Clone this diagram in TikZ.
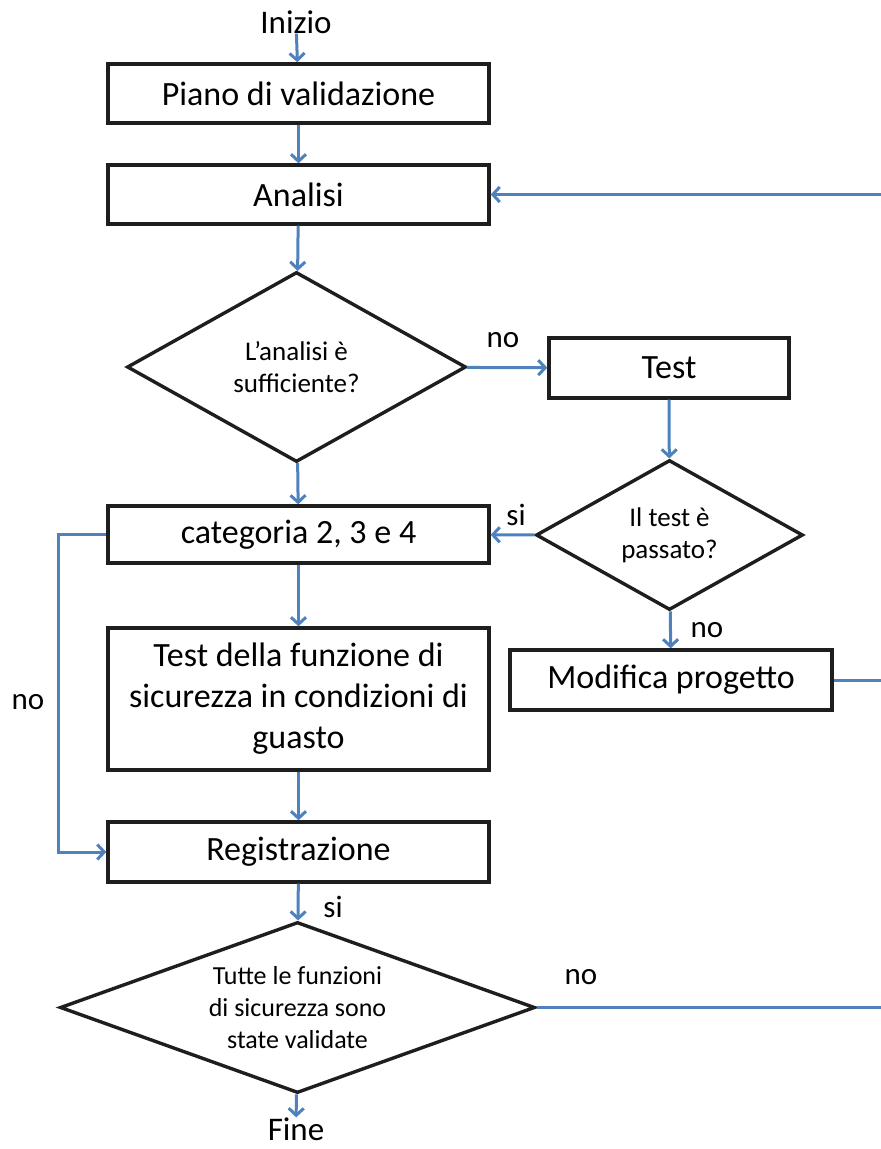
\documentclass[tikz,border=0pt]{standalone}
\usepackage{fontspec}
\setmainfont{Carlito}
\usetikzlibrary{arrows.meta,shapes.geometric}
\definecolor{flowblue}{RGB}{79,129,189}
\definecolor{edge}{RGB}{30,30,30}
\begin{document}
\begin{tikzpicture}[x=1pt,y=-1pt,
  box/.style={draw=edge,line width=3.4pt,minimum width=381pt,minimum height=59pt,inner sep=0pt,
    font=\fontsize{34}{41}\selectfont,align=center},
  decision/.style={draw=edge,line width=3.4pt,diamond,inner sep=0pt},
  dtext/.style={font=\fontsize{27}{32}\selectfont,align=center,inner sep=0pt},
  term/.style={font=\fontsize{33}{40}\selectfont,inner sep=0pt},
  lbl/.style={font=\fontsize{31}{36}\selectfont,inner sep=0pt},
  flow/.style={draw=flowblue,line width=3pt,-{Straight Barb[length=7pt,width=15pt]}},
  link/.style={draw=flowblue,line width=3pt}]
\useasboundingbox (0,0) rectangle (881,1149);

% terminals
\node[term] (start) at (296,22) {Inizio};
\node[term] (stop) at (296,1129) {Fine};

% main column
\node[box] (plan) at (298.5,93.5) {Piano di validazione};
\node[box] (anal) at (298.5,194.5) {Analisi};
\node[box,minimum height=57pt] (cat) at (298.5,534.5) {categoria 2, 3 e 4};
\node[box,minimum height=142pt] (fault) at (298.5,699) {Test della funzione di\\sicurezza in condizioni di\\guasto};
\node[box,minimum height=60pt] (reg) at (298.5,852) {Registrazione};

% right column
\node[box,minimum width=240pt,minimum height=60pt] (test) at (669,368) {Test};
\node[box,minimum width=322pt,minimum height=60pt] (mod) at (671,680) {Modifica progetto};

% decisions
\node[decision,minimum width=339pt,minimum height=190pt] (d1) at (296.5,367) {};
\node[dtext] (d1t) at (296.5,367) {L’analisi è\\sufficiente?};
\node[decision,minimum width=267pt,minimum height=150pt] (d2) at (669.5,535) {};
\node[dtext] (d2t) at (669.5,535) {Il test è\\passato?};
\node[decision,minimum width=475pt,minimum height=171pt] (d3) at (297.5,1007.5) {};
\node[dtext,font=\fontsize{26}{32}\selectfont] (d3t) at (297.5,1007.5) {Tutte le funzioni\\di sicurezza sono\\state validate};

% loose ends running off the right margin
\coordinate (retA) at (881,194.5);
\coordinate (retM) at (881,680);
\coordinate (retD) at (881,1007.5);

% connectors
\draw[flow] (start) -- (plan);
\draw[flow] (plan) -- (anal);
\draw[flow] (anal) -- (d1);
\draw[flow] (d1) -- (cat);
\draw[flow] (d1) -- (test);
\draw[flow] (test) -- (d2);
\draw[flow] (d2) -- (cat);
\draw[flow] (d2) -- (mod);
\draw[flow] (cat) -- (fault);
\draw[flow] (fault) -- (reg);
\draw[flow] (cat.west) -- ++(-48,0) |- (reg.west);
\draw[flow] (reg) -- (d3);
\draw[flow] (d3) -- (stop);
\draw[flow] (retA) -- (anal);
\draw[link] (mod) -- (retM);
\draw[link] (d3) -- (retD);

% branch labels
\node[lbl] (l1) at (503,340) {no};
\node[lbl] (l2) at (516,515) {si};
\node[lbl] (l3) at (707,630) {no};
\node[lbl] (l4) at (28,702) {no};
\node[lbl] (l5) at (333,907) {si};
\node[lbl] (l6) at (581,977) {no};
\end{tikzpicture}
\end{document}
